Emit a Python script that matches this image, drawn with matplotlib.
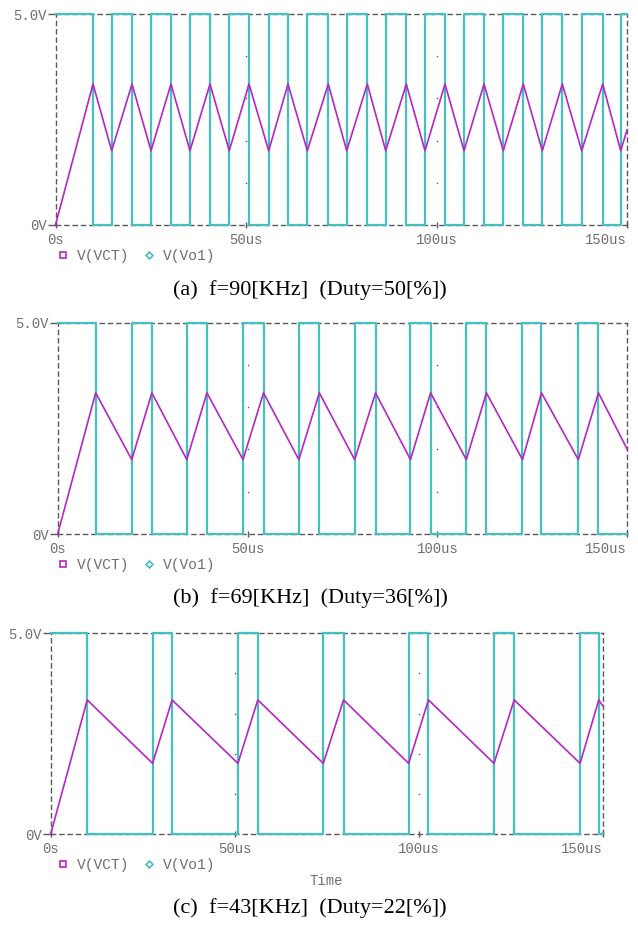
import matplotlib
matplotlib.use("Agg")
import matplotlib.pyplot as plt
from matplotlib.lines import Line2D

W, H = 638, 925

# V(VCT) peak / trough times [us]
a_peak_t = [9.84, 20.08, 30.31, 40.55, 50.79, 61.02, 71.60, 81.84, 92.07,
            102.23, 112.47, 122.78, 133.02, 143.62]
a_trough_t = [14.75, 25.07, 35.30, 45.60, 55.96, 66.09, 76.43, 86.67, 96.98,
              107.22, 117.53, 127.77, 138.11, 148.35]
a_end_v = 2.25

b_peak_t = [10.0, 24.8, 39.3, 54.2, 68.9, 83.7, 98.2, 112.9, 127.4, 142.4]
b_trough_t = [19.5, 34.0, 48.8, 63.5, 78.2, 92.9, 107.6, 122.4, 137.1]
b_end_v = 2.0

c_peak_t = [9.93, 33.0, 56.3, 79.6, 102.7, 126.0, 149.0]
c_trough_t = [27.7, 50.9, 74.1, 97.3, 120.5, 143.9]
c_end_v = 3.2

vct_high = 3.34
vct_low = 1.76
vo_high = 5.0
t_end = 150.0

captions = ["(a)  f=90[KHz]  (Duty=50[%])",
            "(b)  f=69[KHz]  (Duty=36[%])",
            "(c)  f=43[KHz]  (Duty=22[%])"]
x_ticks = [0, 50, 100, 150]
x_tick_labels = ["0s", "50us", "100us", "150us"]
y_ticks = [0, 5]
y_tick_labels = ["0V", "5.0V"]
dot_x = [50, 100]
dot_y = [1, 2, 3, 4]

MAG = "#b526c4"
CYAN = "#45bfbf"
GRAY = "#6e6e6e"
MONO = "Liberation Mono"
SERIF = "Liberation Serif"

# panel boxes in pixels: left, top, right, bottom
boxes = [(55.5, 14, 627, 225), (57.7, 322.7, 627.3, 534), (50.7, 633.3, 602.5, 834)]
caption_y = [290, 598, 908]


def waveforms(peaks, troughs, end_v):
    # VCT charges while Vo1 is high, discharges while it is low
    events = sorted([(p, 1) for p in peaks] + [(q, 0) for q in troughs])
    t, v, s = [0.0], [0.0], [vo_high]
    for time, is_peak in events:
        t.append(time)
        v.append(vct_high if is_peak else vct_low)
        s.append(0.0 if is_peak else vo_high)
    t.append(t_end)
    v.append(end_v)
    s.append(s[-1])
    return t, v, s


fig = plt.figure(figsize=(W / 100, H / 100), dpi=100)
fig.patch.set_facecolor("white")

panels = [(a_peak_t, a_trough_t, a_end_v),
          (b_peak_t, b_trough_t, b_end_v),
          (c_peak_t, c_trough_t, c_end_v)]

for i, (peaks, troughs, end_v) in enumerate(panels):
    l, tp, r, b = boxes[i]
    ax = fig.add_axes([l / W, 1 - b / H, (r - l) / W, (b - tp) / H])
    t, v, s = waveforms(peaks, troughs, end_v)

    ax.plot(t, s, color=CYAN, lw=1.6, drawstyle="steps-post", zorder=3, clip_on=False)
    ax.plot(t, v, color=MAG, lw=1.2, zorder=4, clip_on=False)

    for xd in dot_x:
        ax.scatter([xd] * len(dot_y), dot_y, s=1.2, color="#555555", zorder=1, lw=0)

    ax.set_xlim(0, t_end)
    ax.set_ylim(0, 5)
    for sp in ax.spines.values():
        sp.set_linestyle((0, (3, 3)))
        sp.set_color("#5a5a5a")
        sp.set_linewidth(1.0)

    ax.set_xticks(x_ticks)
    ax.set_xticklabels(x_tick_labels, family=MONO, fontsize=10, color=GRAY)
    ax.get_xticklabels()[-1].set_horizontalalignment("right")
    ax.set_yticks(y_ticks)
    ax.set_yticklabels(y_tick_labels, family=MONO, fontsize=10, color=GRAY)
    ax.tick_params(axis="x", direction="inout", length=5, width=1, color="#5a5a5a", pad=3)
    ax.tick_params(axis="y", direction="out", length=6, width=1, color="#5a5a5a", pad=0.5)

    handles = [Line2D([], [], marker="s", ms=4, mfc="none", mec=MAG, mew=1.2, ls="none"),
               Line2D([], [], marker="D", ms=3.5, mfc="none", mec=CYAN, mew=1.2, ls="none")]
    leg_y = (b - (b + 31)) / (b - tp)
    ax.legend(handles, ["V(VCT)", "V(Vo1)"], loc="center left",
              bbox_to_anchor=((59 - l) / (r - l), leg_y), ncol=2, frameon=False,
              borderpad=0, borderaxespad=0, handlelength=0.6, handletextpad=0.65,
              columnspacing=1.05, prop={"family": MONO, "size": 10.5}, labelcolor=GRAY)

    fig.text(310 / W, 1 - caption_y[i] / H, captions[i], ha="center", va="center",
             family=SERIF, fontsize=16, color="black")

fig.text(326 / W, 1 - 881 / H, "Time", ha="center", va="center",
         family=MONO, fontsize=10, color=GRAY)

fig.savefig("out.png", dpi=100, facecolor="white")
